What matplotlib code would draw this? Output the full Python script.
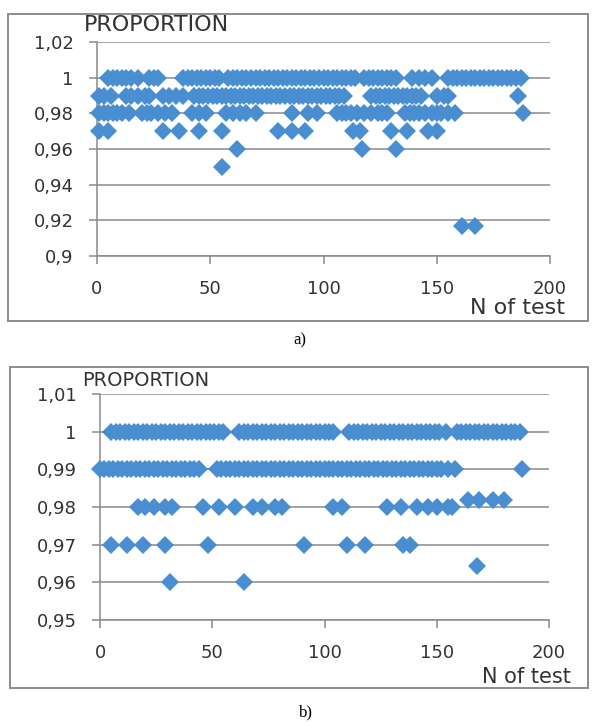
import matplotlib
matplotlib.use("Agg")
import matplotlib.pyplot as plt
from matplotlib.patches import Rectangle

W, H = 598, 722

# ---- panel a) data: test number per proportion level ----
a_lvl_100 = [5, 7, 9, 11, 13, 15, 18, 23, 25, 27, 38, 40, 42, 44, 46, 48, 50, 52, 54, 58,
             60, 62, 64, 66, 68, 70, 72, 74, 76, 78, 80, 82, 84, 86, 88, 90, 92, 94, 96, 98,
             100, 102, 104, 106, 108, 110, 112, 114, 118, 120, 122, 124, 126, 128, 130, 132,
             139, 142, 145, 148, 155, 157, 159, 161, 163, 165, 167, 169, 171, 173, 175, 177,
             179, 181, 183, 185, 187]
a_lvl_099 = [1, 3, 6, 13, 15, 18, 21, 23, 29, 32, 35, 38, 43, 45, 47, 49, 51, 53, 55, 57,
             59, 61, 63, 65, 67, 69, 71, 73, 75, 77, 79, 81, 83, 85, 87, 89, 91, 93, 95, 97,
             99, 101, 103, 105, 107, 109, 121, 123, 125, 127, 129, 131, 133, 135, 137, 139,
             141, 143, 150, 153, 155, 186]
a_lvl_098 = [1, 3, 5, 7, 9, 11, 14, 20, 22, 24, 27, 30, 33, 42, 45, 48, 57, 60, 63, 66, 70,
             86, 93, 97, 106, 108, 110, 112, 115, 118, 121, 124, 126, 128, 136, 138, 140, 142,
             145, 148, 150, 152, 155, 158, 188]
a_lvl_097 = [1, 5, 29, 36, 45, 55, 80, 86, 92, 113, 116, 130, 137, 146, 150]
a_lvl_096 = [62, 117, 132]
a_lvl_095 = [55]
a_lvl_0917 = [161, 167]

a_levels = [1.0, 0.99, 0.98, 0.97, 0.96, 0.95, 0.9167]
a_tests = [a_lvl_100, a_lvl_099, a_lvl_098, a_lvl_097, a_lvl_096, a_lvl_095, a_lvl_0917]
a_yticks = [0.9, 0.92, 0.94, 0.96, 0.98, 1.0, 1.02]
a_ylabels = ["0,9", "0,92", "0,94", "0,96", "0,98", "1", "1,02"]

# ---- panel b) data ----
b_lvl_100 = [5, 7, 9, 11, 13, 15, 17, 19, 21, 23, 25, 27, 29, 31, 33, 35, 37, 39, 41, 43, 45,
             47, 49, 51, 53, 55, 62, 64, 66, 68, 70, 72, 74, 76, 78, 80, 82, 84, 86, 88, 90,
             92, 94, 96, 98, 100, 102, 104, 111, 113, 115, 117, 119, 121, 123, 125, 127, 129,
             131, 133, 135, 137, 139, 141, 143, 145, 147, 149, 151, 154, 159, 161, 163, 165,
             167, 169, 171, 173, 175, 177, 179, 181, 183, 185, 187]
b_lvl_099 = [0, 2, 4, 6, 8, 10, 12, 14, 16, 18, 20, 22, 24, 26, 28, 30, 32, 34, 36, 38, 40,
             42, 44, 52, 54, 56, 58, 60, 62, 64, 66, 68, 70, 72, 74, 76, 78, 80, 82, 84, 86,
             88, 90, 92, 94, 96, 98, 100, 102, 104, 106, 108, 110, 112, 114, 116, 118, 120,
             122, 124, 126, 128, 130, 132, 134, 136, 138, 140, 142, 144, 146, 148, 150, 152,
             155, 158, 188]
b_lvl_098 = [17, 20, 24, 29, 32, 46, 53, 60, 68, 72, 78, 81, 104, 108, 128, 134, 141, 146,
             150, 155, 157]
b_lvl_0982 = [164, 169, 175, 180]
b_lvl_097 = [5, 12, 19, 29, 48, 91, 110, 118, 135, 138]
b_lvl_096 = [31, 64]
b_lvl_0964 = [168]

b_levels = [1.0, 0.99, 0.98, 0.9818, 0.97, 0.96, 0.9643]
b_tests = [b_lvl_100, b_lvl_099, b_lvl_098, b_lvl_0982, b_lvl_097, b_lvl_096, b_lvl_0964]
b_yticks = [0.95, 0.96, 0.97, 0.98, 0.99, 1.0, 1.01]
b_ylabels = ["0,95", "0,96", "0,97", "0,98", "0,99", "1", "1,01"]

x_ticks = [0, 50, 100, 150, 200]

BLUE = "#4a8ed2"
GRID = "#8a8a8a"
TXT = "#333333"

fig = plt.figure(figsize=(W / 100, H / 100), dpi=100)


def rect(x0, y0, x1, y1):
    # pixel box (top-left origin) -> figure fraction
    return [x0 / W, 1 - y1 / H, (x1 - x0) / W, (y1 - y0) / H]


def panel(ax_rect, tests, levels, yticks, ylabels, ylim, tick_fs):
    ax = fig.add_axes(ax_rect)
    xs, ys = [], []
    for t, lv in zip(tests, levels):
        xs += t
        ys += [lv] * len(t)
    ax.plot(xs, ys, "D", color=BLUE, ms=9.5, mew=0, zorder=3, clip_on=False)
    ax.set_xlim(0, 200)
    ax.set_ylim(*ylim)
    ax.set_xticks(x_ticks)
    ax.set_xticklabels([str(v) for v in x_ticks])
    ax.set_yticks(yticks)
    ax.set_yticklabels(ylabels)
    ax.grid(axis="y", color=GRID, lw=1.1)
    ax.set_axisbelow(True)
    for s in ["top", "right"]:
        ax.spines[s].set_visible(False)
    for s in ["left", "bottom"]:
        ax.spines[s].set_color(GRID)
        ax.spines[s].set_linewidth(1.1)
    ax.tick_params(axis="both", direction="out", length=6, width=1.1, color=GRID,
                   labelcolor=TXT, labelsize=tick_fs)
    ax.tick_params(axis="y", pad=11)
    ax.tick_params(axis="x", pad=11)
    return ax


panel(rect(97, 42, 550, 256), a_tests, a_levels, a_yticks, a_ylabels, (0.9, 1.02), 13)
panel(rect(100, 394, 549, 620), b_tests, b_levels, b_yticks, b_ylabels, (0.95, 1.01), 13)

# outer frames
for x0, y0, x1, y1 in [(8, 14, 588, 321), (10, 367, 588, 688)]:
    fig.patches.append(Rectangle((x0 / W, 1 - y1 / H), (x1 - x0) / W, (y1 - y0) / H,
                                 transform=fig.transFigure, fill=False,
                                 edgecolor="#8c8c8c", lw=1.4))

fig.text(84 / W, 1 - 25 / H, "PROPORTION", fontsize=16, color=TXT, va="center", ha="left")
fig.text(470 / W, 1 - 308 / H, "N of test", fontsize=16, color=TXT, va="center", ha="left")
fig.text(82 / W, 1 - 381 / H, "PROPORTION", fontsize=14, color=TXT, va="center", ha="left")
fig.text(482 / W, 1 - 677 / H, "N of test", fontsize=15, color=TXT, va="center", ha="left")

fig.text(300 / W, 1 - 340 / H, "a)", fontsize=12, family="Liberation Serif", ha="center", va="center")
fig.text(306 / W, 1 - 712 / H, "b)", fontsize=12, family="Liberation Serif", ha="center", va="center")

fig.savefig("out.png", dpi=100, facecolor="white")
